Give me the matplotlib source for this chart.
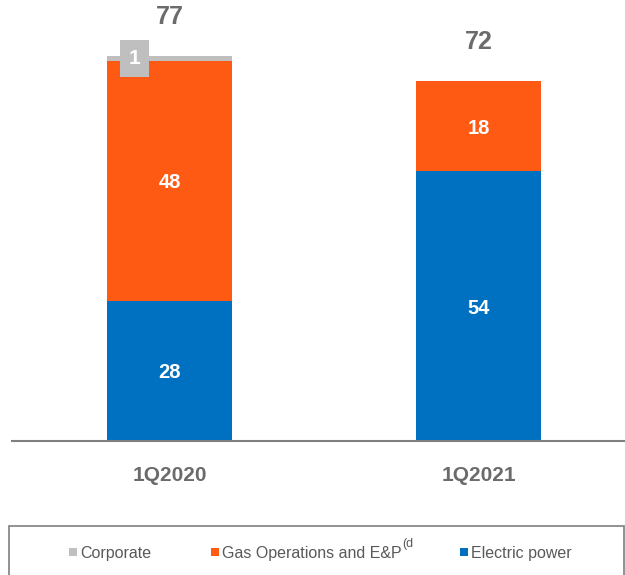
import matplotlib
matplotlib.use("Agg")
import matplotlib.pyplot as plt
from matplotlib.patches import Rectangle
import numpy as np

plt.rcParams['font.family'] = ['Liberation Sans', 'DejaVu Sans']

categories = ["1Q2020", "1Q2021"]
electric = [28, 54]
gas = [48, 18]
corporate = [1, 0]
totals = [77, 72]
legend_labels = ["Corporate", "Gas Operations and E&P", "Electric power"]

c_elec = "#0070C0"
c_gas = "#FF5A14"
c_corp = "#BFBFBF"
c_text = "#6B6B6B"
c_legend = "#595959"

fig = plt.figure(figsize=(6.25, 5.75), dpi=100)
ax = fig.add_axes([12 / 625, 134 / 575, 613 / 625, 441 / 575])

x = np.arange(len(categories))
w = 0.4045
e = np.array(electric)
g = np.array(gas)
c = np.array(corporate)

ax.bar(x, e, w, color=c_elec)
ax.bar(x, g, w, bottom=e, color=c_gas)
ax.bar(x, c, w, bottom=e + g, color=c_corp)

ax.set_xlim(-0.5097, 1.474)
ax.set_ylim(0, 88.2)

for i in range(len(categories)):
    ax.text(x[i], e[i] / 2, str(electric[i]), ha="center", va="center_baseline",
            color="white", fontsize=14.5, fontweight="bold")
    ax.text(x[i], e[i] + g[i] / 2, str(gas[i]), ha="center", va="center_baseline",
            color="white", fontsize=14.5, fontweight="bold")
    if corporate[i] > 0:
        ax.text(x[i] - w / 2 + 0.09, e[i] + g[i] + c[i] / 2, str(corporate[i]),
                ha="center", va="center", color="white", fontsize=15,
                fontweight="bold",
                bbox=dict(boxstyle="square,pad=0.42", fc=c_corp, ec="none"))
    ax.annotate(str(totals[i]), (x[i], totals[i]), xytext=(0, 28),
                textcoords="offset points", ha="center", va="center",
                color=c_text, fontsize=18, fontweight="bold")

for s in ["top", "right", "left"]:
    ax.spines[s].set_visible(False)
ax.spines["bottom"].set_color("#808080")
ax.spines["bottom"].set_linewidth(1.5)
ax.set_yticks([])
ax.set_xticks(x)
ax.set_xticklabels(categories, fontsize=15, fontweight="bold", color=c_text)
ax.tick_params(axis="x", length=0, pad=18)

# legend frame, running off the bottom and right edges
fig.patches.append(Rectangle((9 / 625, -0.1), (624 - 9) / 625, 0.1 + 49 / 575,
                             transform=fig.transFigure, fill=False,
                             ec="#7F7F7F", lw=1.2))

# legend entries: square swatch followed by its label
legend_colors = [c_corp, c_gas, c_elec]
swatch_x = [69, 211, 460]
yc = 552
sq = 8
for lab, col, sx in zip(legend_labels, legend_colors, swatch_x):
    fig.patches.append(Rectangle((sx / 625, (575 - yc - sq / 2) / 575),
                                 sq / 625, sq / 575, transform=fig.transFigure,
                                 fc=col, ec="none"))
    t = fig.text((sx + sq + 3) / 625, (575 - yc) / 575, lab, ha="left",
                 va="center_baseline", fontsize=11.5, color=c_legend)
    if lab.startswith("Gas"):
        fig.canvas.draw()
        bb = t.get_window_extent()
        fig.text(bb.x1 / 625 + 0.001, (575 - yc + 9) / 575, "(d", ha="left",
                 va="center_baseline", fontsize=9, color=c_legend)

fig.savefig("out.png", dpi=100)
